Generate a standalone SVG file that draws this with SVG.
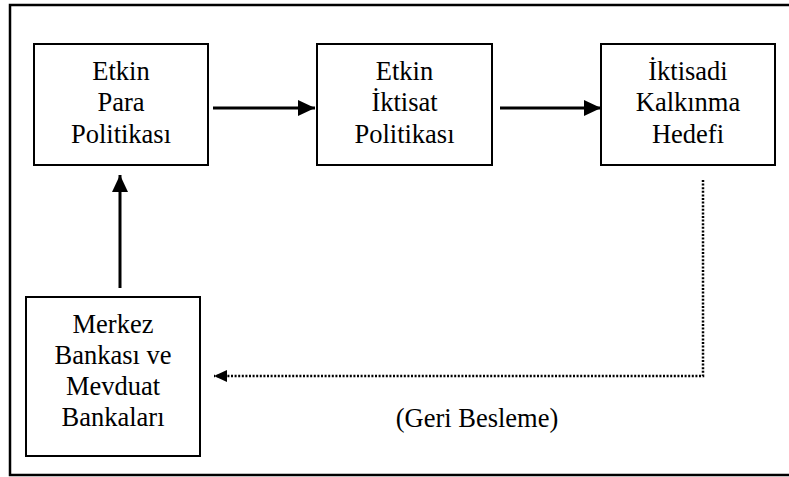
<svg xmlns="http://www.w3.org/2000/svg" width="789" height="477" viewBox="0 0 789 477">
  <style>
    .box { fill: #ffffff; stroke: #000000; stroke-width: 2; }
    .frame { fill: none; stroke: #000000; stroke-width: 2.5; }
    .lbl { font-family: 'Liberation Serif', 'DejaVu Serif', serif; font-size: 26.5px; fill: #000000; text-anchor: middle; }
    .solid { stroke: #000000; stroke-width: 3; fill: none; }
    .dotted { stroke: #000000; stroke-width: 2.5; fill: none; stroke-dasharray: 2 1.6; }
  </style>
  <defs>
    <marker id="head" markerUnits="userSpaceOnUse" markerWidth="18" markerHeight="16" refX="17" refY="8" orient="auto">
      <path d="M0,0 L17,8 L0,16 Z" fill="#000000"/>
    </marker>
    <marker id="headSmall" markerUnits="userSpaceOnUse" markerWidth="14" markerHeight="12" refX="13" refY="6" orient="auto">
      <path d="M0,0 L13,6 L0,12 Z" fill="#000000"/>
    </marker>
  </defs>
  <rect width="789" height="477" fill="#ffffff"/>

  <!-- outer frame: left, top, bottom edges -->
  <path class="frame" d="M789,5 L10,5 L10,475 L789,475"/>

  <g id="node-para">
    <rect class="box" x="34" y="44" width="174" height="121"/>
    <text class="lbl" x="121" y="80">Etkin</text>
    <text class="lbl" x="121" y="111">Para</text>
    <text class="lbl" x="121" y="143">Politikası</text>
  </g>

  <g id="node-iktisat">
    <rect class="box" x="317" y="44" width="175" height="121"/>
    <text class="lbl" x="404.5" y="80">Etkin</text>
    <text class="lbl" x="404.5" y="111">İktisat</text>
    <text class="lbl" x="404.5" y="143">Politikası</text>
  </g>

  <g id="node-hedef">
    <rect class="box" x="601" y="44" width="174" height="121"/>
    <text class="lbl" x="688" y="80">İktisadi</text>
    <text class="lbl" x="688" y="111">Kalkınma</text>
    <text class="lbl" x="688" y="143">Hedefi</text>
  </g>

  <g id="node-banka">
    <rect class="box" x="26" y="297" width="174" height="159"/>
    <text class="lbl" x="113" y="333">Merkez</text>
    <text class="lbl" x="113" y="364">Bankası ve</text>
    <text class="lbl" x="113" y="395">Mevduat</text>
    <text class="lbl" x="113" y="426">Bankaları</text>
  </g>

  <g id="connectors">
    <line class="solid" x1="213" y1="108" x2="315" y2="108" marker-end="url(#head)"/>
    <line class="solid" x1="500" y1="108" x2="601" y2="108" marker-end="url(#head)"/>
    <line class="solid" x1="120" y1="288" x2="120" y2="175" marker-end="url(#head)"/>
    <polyline class="dotted" points="703,180 703,376 214,376" marker-end="url(#headSmall)"/>
    <text class="lbl" x="477" y="427">(Geri Besleme)</text>
  </g>
</svg>
